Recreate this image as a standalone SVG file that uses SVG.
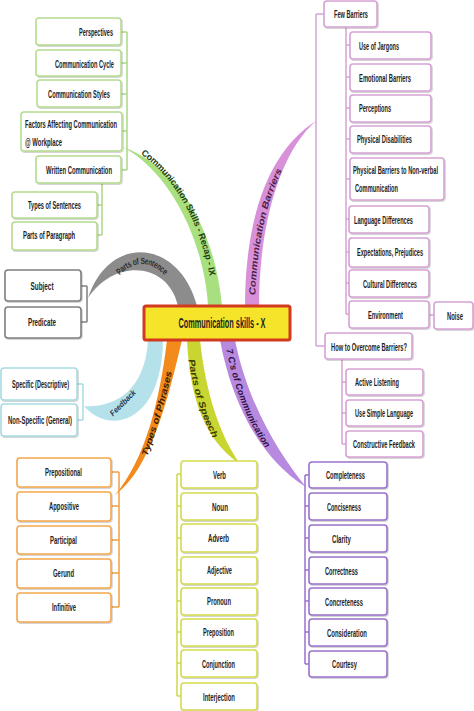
<svg xmlns="http://www.w3.org/2000/svg" width="474" height="711" viewBox="0 0 474 711">
<style>
text{font-family:"Liberation Sans",Arial,sans-serif;font-size:11px;font-weight:bold;fill:#1e1e1e;text-anchor:middle;dominant-baseline:central}
.box{fill:#fff;stroke-width:1.6;filter:url(#sh)}
.gr .box{stroke:#b4dc8e}.gy .box{stroke:#7f7f7f}.bl .box{stroke:#a8dbe3}.or .box{stroke:#f5a64c}
.ye .box{stroke:#d3dc4c}.pu .box{stroke:#9b72cc}.pk .box{stroke:#d6a2d5}
.ln{fill:none;stroke-width:1.5}
.lbl{font-size:9px;font-weight:bold;font-style:italic}
</style>
<defs>
<filter id="sh" x="-10%" y="-10%" width="130%" height="140%"><feDropShadow dx="0.8" dy="1" stdDeviation="0.7" flood-color="#000" flood-opacity="0.22"/></filter>
<path id="pGreen" d="M 130,144 C 180,170 207,232 215,290"/>
<path id="pBar" d="M 252,305 C 253,250 262,200 284,160"/>
<path id="pSent" d="M 111,280 Q 142,242 173,280"/>
<path id="pPhr" d="M 140,468 C 152,435 163,400 172,358"/>
<path id="pSpe" d="M 190,350 C 195,385 203,415 220,445"/>
<path id="pSev" d="M 227,338 C 236,385 250,425 275,455"/>
</defs>
<rect width="474" height="711" fill="#fff"/>
<g id="connectors">
<path d="M 208,306 C 205,250 176,176 123,147 C 186,170 216,240 222,306 Z" fill="#a9e07f"/>
<path d="M 245,307 C 245,215 270,150 316,121 C 282,150 259,220 259,307 Z" fill="#d891d8"/>
<path d="M 88,298 C 110,232 180,240 197,306 L 178,306 C 168,262 115,258 88,298 Z" fill="#8c8c8c"/>
<path d="M 84,406 C 108,435 162,425 163,340 L 148,340 C 145,395 110,408 84,406 Z" fill="#b5e2ea"/>
<path d="M 167,340 C 160,400 145,460 115,495 C 150,470 168,400 182,340 Z" fill="#f28a1c"/>
<path d="M 187,340 C 190,400 205,440 240,464 C 220,435 206,395 200,340 Z" fill="#c9d530"/>
<path d="M 220,340 C 232,405 262,460 306,487 C 280,455 248,405 235,340 Z" fill="#b78ae0"/>
<path class="ln" stroke="#a9d985" d="M121,32H127M121,63H127M121,94H127M122,131H127M121,170H127M127,32V170M102,183V235M97,205H102M97,235H102"/>
<path class="ln" stroke="#7f7f7f" d="M81,286H87M81,322H87M87,286V322"/>
<path class="ln" stroke="#a8dbe3" d="M77,384H83M77,420H83M83,384V420"/>
<path class="ln" stroke="#f2a040" d="M111,472H119M111,506H119M111,540H119M111,573H119M111,607H119M119,472V607"/>
<path class="ln" stroke="#d0d84a" d="M177,474H181M177,506H181M177,538H181M177,570H181M177,601H181M177,632H181M177,663H181M177,696H181M177,474V696"/>
<path class="ln" stroke="#9b72cc" d="M305,475H309M305,506H309M305,538H309M305,570H309M305,601H309M305,632H309M305,664H309M305,475V664"/>
<path class="ln" stroke="#d6a2d5" d="M316,14H324M316,346H325M316,14V346M346,27V314M346,45H350M346,77H350M346,108H350M346,139H350M346,179H350M346,219H350M346,252H350M346,283H350M346,314H350M429,315H434M342,359V444M342,382H346M342,413H346M342,444H346"/>
<text class="lbl" style="fill:#1e3d10;font-style:normal"><textPath href="#pGreen" startOffset="50%" textLength="146" lengthAdjust="spacingAndGlyphs">Communication Skills - Recap - IX</textPath></text>
<text class="lbl" style="fill:#4a1f4a"><textPath href="#pBar" startOffset="50%" textLength="130" lengthAdjust="spacingAndGlyphs">Communication Barriers</textPath></text>
<text class="lbl" style="fill:#2e2e2e;font-style:normal"><textPath href="#pSent" startOffset="50%" textLength="56" lengthAdjust="spacingAndGlyphs">Parts of Sentence</textPath></text>
<text class="lbl" style="fill:#1d3550;font-size:8px" transform="translate(123,403) rotate(-45)" textLength="33" lengthAdjust="spacingAndGlyphs">Feedback</text>
<text class="lbl" style="fill:#3a1c00"><textPath href="#pPhr" startOffset="50%" textLength="88" lengthAdjust="spacingAndGlyphs">Types of Phrases</textPath></text>
<text class="lbl" style="fill:#3a3a00"><textPath href="#pSpe" startOffset="50%" textLength="82" lengthAdjust="spacingAndGlyphs">Parts of Speech</textPath></text>
<text class="lbl" style="fill:#2c1044"><textPath href="#pSev" startOffset="50%" textLength="106" lengthAdjust="spacingAndGlyphs">7 C's of Communication</textPath></text>
</g>
<g id="central"><rect x="144" y="306" width="146" height="34" rx="2" fill="#f5e42a" stroke="#d2391e" stroke-width="3"/><text x="222" y="323" style="font-size:14px" textLength="87" lengthAdjust="spacingAndGlyphs">Communication skills - X</text></g>
<g class="gr">
<g id="perspectives"><rect class="box" x="36" y="18" width="85" height="27" rx="3"/><text x="96" y="32" textLength="34" lengthAdjust="spacingAndGlyphs">Perspectives</text></g>
<g id="comm-cycle"><rect class="box" x="36" y="50" width="85" height="26" rx="3"/><text x="84.5" y="63.5" textLength="59" lengthAdjust="spacingAndGlyphs">Communication Cycle</text></g>
<g id="comm-styles"><rect class="box" x="37" y="80" width="84" height="27" rx="3"/><text x="79" y="94" textLength="62" lengthAdjust="spacingAndGlyphs">Communication Styles</text></g>
<g id="factors"><rect class="box" x="21" y="112" width="101" height="39" rx="3"/><text x="71" y="124" textLength="92" lengthAdjust="spacingAndGlyphs">Factors Affecting Communication</text><text x="43.5" y="142" textLength="37" lengthAdjust="spacingAndGlyphs">@ Workplace</text></g>
<g id="written"><rect class="box" x="36" y="156" width="85" height="27" rx="3"/><text x="79" y="170" textLength="66" lengthAdjust="spacingAndGlyphs">Written Communication</text></g>
<g id="types-sentences"><rect class="box" x="12" y="192" width="85" height="26" rx="3"/><text x="54.5" y="205" textLength="53" lengthAdjust="spacingAndGlyphs">Types of Sentences</text></g>
<g id="parts-paragraph"><rect class="box" x="12" y="222" width="85" height="28" rx="3"/><text x="49" y="235" textLength="52" lengthAdjust="spacingAndGlyphs">Parts of Paragraph</text></g>
</g>
<g class="gy">
<g id="subject"><rect class="box" x="5" y="270" width="76" height="31" rx="3"/><text x="42" y="286" textLength="23" lengthAdjust="spacingAndGlyphs">Subject</text></g>
<g id="predicate"><rect class="box" x="5" y="307" width="76" height="31" rx="3"/><text x="42" y="322" textLength="28" lengthAdjust="spacingAndGlyphs">Predicate</text></g>
</g>
<g class="bl">
<g id="specific"><rect class="box" x="1" y="368" width="76" height="32" rx="3"/><text x="40.5" y="384" textLength="57" lengthAdjust="spacingAndGlyphs">Specific (Descriptive)</text></g>
<g id="non-specific"><rect class="box" x="1" y="404" width="76" height="32" rx="3"/><text x="40" y="420" textLength="64" lengthAdjust="spacingAndGlyphs">Non-Specific (General)</text></g>
</g>
<g class="or">
<g id="prepositional"><rect class="box" x="17" y="458" width="94" height="29" rx="3"/><text x="63.5" y="472" textLength="37" lengthAdjust="spacingAndGlyphs">Prepositional</text></g>
<g id="appositive"><rect class="box" x="17" y="492" width="94" height="29" rx="3"/><text x="64" y="506" textLength="30" lengthAdjust="spacingAndGlyphs">Appositive</text></g>
<g id="participal"><rect class="box" x="17" y="526" width="94" height="28" rx="3"/><text x="63.5" y="540" textLength="27" lengthAdjust="spacingAndGlyphs">Participal</text></g>
<g id="gerund"><rect class="box" x="17" y="559" width="94" height="29" rx="3"/><text x="63.5" y="573" textLength="21" lengthAdjust="spacingAndGlyphs">Gerund</text></g>
<g id="infinitive"><rect class="box" x="17" y="593" width="94" height="29" rx="3"/><text x="64" y="607" textLength="24" lengthAdjust="spacingAndGlyphs">Infinitive</text></g>
</g>
<g class="ye">
<g id="verb"><rect class="box" x="181" y="461" width="76" height="27" rx="3"/><text x="219.5" y="474.5" textLength="13" lengthAdjust="spacingAndGlyphs">Verb</text></g>
<g id="noun"><rect class="box" x="181" y="493" width="76" height="27" rx="3"/><text x="220" y="506.5" textLength="16" lengthAdjust="spacingAndGlyphs">Noun</text></g>
<g id="adverb"><rect class="box" x="181" y="524" width="76" height="28" rx="3"/><text x="218.5" y="538" textLength="21" lengthAdjust="spacingAndGlyphs">Adverb</text></g>
<g id="adjective"><rect class="box" x="181" y="557" width="76" height="27" rx="3"/><text x="219.5" y="570" textLength="25" lengthAdjust="spacingAndGlyphs">Adjective</text></g>
<g id="pronoun"><rect class="box" x="181" y="588" width="76" height="27" rx="3"/><text x="219" y="601" textLength="24" lengthAdjust="spacingAndGlyphs">Pronoun</text></g>
<g id="preposition"><rect class="box" x="181" y="619" width="76" height="27" rx="3"/><text x="218.5" y="632" textLength="31" lengthAdjust="spacingAndGlyphs">Preposition</text></g>
<g id="conjunction"><rect class="box" x="181" y="650" width="76" height="27" rx="3"/><text x="218.5" y="663.5" textLength="33" lengthAdjust="spacingAndGlyphs">Conjunction</text></g>
<g id="interjection"><rect class="box" x="181" y="683" width="76" height="27" rx="3"/><text x="219" y="696.5" textLength="32" lengthAdjust="spacingAndGlyphs">Interjection</text></g>
</g>
<g class="pu">
<g id="completeness"><rect class="box" x="309" y="462" width="78" height="26" rx="3"/><text x="345.5" y="475" textLength="39" lengthAdjust="spacingAndGlyphs">Completeness</text></g>
<g id="conciseness"><rect class="box" x="309" y="493" width="78" height="27" rx="3"/><text x="344" y="506.5" textLength="34" lengthAdjust="spacingAndGlyphs">Conciseness</text></g>
<g id="clarity"><rect class="box" x="309" y="525" width="78" height="27" rx="3"/><text x="341.5" y="538.5" textLength="19" lengthAdjust="spacingAndGlyphs">Clarity</text></g>
<g id="correctness"><rect class="box" x="309" y="557" width="78" height="27" rx="3"/><text x="341.5" y="570.5" textLength="33" lengthAdjust="spacingAndGlyphs">Correctness</text></g>
<g id="concreteness"><rect class="box" x="309" y="588" width="78" height="27" rx="3"/><text x="344" y="601.5" textLength="38" lengthAdjust="spacingAndGlyphs">Concreteness</text></g>
<g id="consideration"><rect class="box" x="309" y="619" width="78" height="27" rx="3"/><text x="347" y="632.5" textLength="40" lengthAdjust="spacingAndGlyphs">Consideration</text></g>
<g id="courtesy"><rect class="box" x="309" y="651" width="78" height="26" rx="3"/><text x="344.5" y="664" textLength="25" lengthAdjust="spacingAndGlyphs">Courtesy</text></g>
</g>
<g class="pk">
<g id="few-barriers"><rect class="box" x="324" y="1" width="53" height="26" rx="3"/><text x="351" y="14" textLength="34" lengthAdjust="spacingAndGlyphs">Few Barriers</text></g>
<g id="jargons"><rect class="box" x="350" y="32" width="81" height="27" rx="3"/><text x="379" y="45.5" textLength="40" lengthAdjust="spacingAndGlyphs">Use of Jargons</text></g>
<g id="emotional"><rect class="box" x="350" y="64" width="81" height="27" rx="3"/><text x="385" y="78" textLength="52" lengthAdjust="spacingAndGlyphs">Emotional Barriers</text></g>
<g id="perceptions"><rect class="box" x="350" y="95" width="81" height="27" rx="3"/><text x="375" y="108" textLength="32" lengthAdjust="spacingAndGlyphs">Perceptions</text></g>
<g id="physical-disabilities"><rect class="box" x="350" y="126" width="81" height="27" rx="3"/><text x="384.5" y="139" textLength="55" lengthAdjust="spacingAndGlyphs">Physical Disabilities</text></g>
<g id="physical-barriers"><rect class="box" x="350" y="158" width="94" height="42" rx="3"/><text x="395.5" y="170" textLength="85" lengthAdjust="spacingAndGlyphs">Physical Barriers to Non-verbal</text><text x="376.5" y="188" textLength="43" lengthAdjust="spacingAndGlyphs">Communication</text></g>
<g id="language"><rect class="box" x="349" y="206" width="80" height="27" rx="3"/><text x="383.5" y="219.5" textLength="59" lengthAdjust="spacingAndGlyphs">Language Differences</text></g>
<g id="expectations"><rect class="box" x="349" y="238" width="80" height="29" rx="3"/><text x="390" y="252" textLength="66" lengthAdjust="spacingAndGlyphs">Expectations, Prejudices</text></g>
<g id="cultural"><rect class="box" x="349" y="270" width="80" height="27" rx="3"/><text x="390" y="283.5" textLength="54" lengthAdjust="spacingAndGlyphs">Cultural Differences</text></g>
<g id="environment"><rect class="box" x="349" y="301" width="80" height="27" rx="3"/><text x="385.5" y="315" textLength="35" lengthAdjust="spacingAndGlyphs">Environment</text></g>
<g id="noise"><rect class="box" x="434" y="302" width="39" height="27" rx="3"/><text x="455" y="315.5" textLength="16" lengthAdjust="spacingAndGlyphs">Noise</text></g>
<g id="overcome"><rect class="box" x="325" y="333" width="87" height="26" rx="3"/><text x="369" y="346.5" textLength="76" lengthAdjust="spacingAndGlyphs">How to Overcome Barriers?</text></g>
<g id="active-listening"><rect class="box" x="346" y="369" width="77" height="26" rx="3"/><text x="377" y="382" textLength="44" lengthAdjust="spacingAndGlyphs">Active Listening</text></g>
<g id="simple-language"><rect class="box" x="346" y="400" width="77" height="26" rx="3"/><text x="384" y="413" textLength="58" lengthAdjust="spacingAndGlyphs">Use Simple Language</text></g>
<g id="constructive"><rect class="box" x="346" y="431" width="77" height="26" rx="3"/><text x="384" y="444" textLength="62" lengthAdjust="spacingAndGlyphs">Constructive Feedback</text></g>
</g>
</svg>
